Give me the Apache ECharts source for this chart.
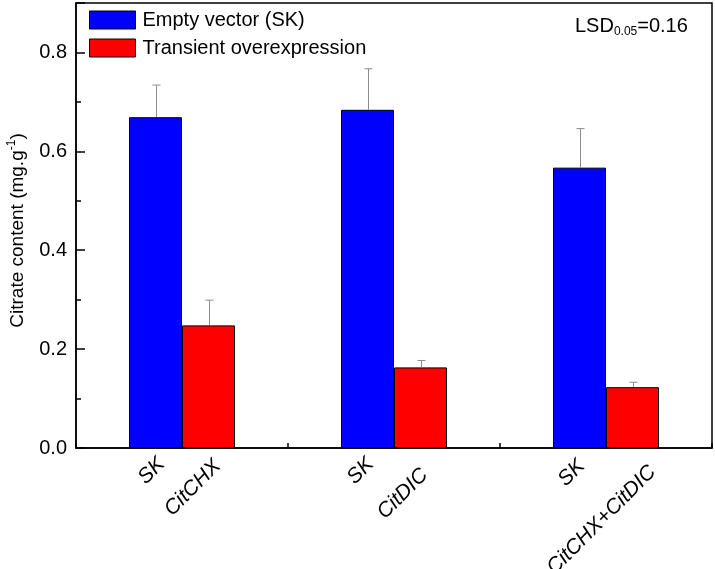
<!DOCTYPE html>
<html><head><meta charset="utf-8">
<script src="https://cdn.jsdelivr.net/npm/echarts@6/dist/echarts.min.js"></script>
<style>html,body{margin:0;padding:0;background:#fff}#c{width:715px;height:569px}</style>
</head><body><div id="c"></div>
<script>
const groups = ['CitCHX', 'CitDIC', 'CitCHX+CitDIC'];
const skLabels = ['SK', 'SK', 'SK'];
const oeLabels = ['CitCHX', 'CitDIC', 'CitCHX+CitDIC'];
const skMeans = [0.669, 0.684, 0.567];
const skErrors = [0.065, 0.083, 0.079];
const oeMeans = [0.248, 0.163, 0.123];
const oeErrors = [0.051, 0.014, 0.010];
const seriesNames = ['Empty vector (SK)', 'Transient overexpression'];

// layout only: screen-space pixel nudges of each rotated category label (as placed in the original figure)
const skLabelNudge = [[6, 13], [3, 13], [2, 15]];
const oeLabelNudge = [[9, 15], [4, 24], [20, 21]];

const FONT = 'Liberation Sans, Arial, sans-serif';
const ROT = 45;

function errSeries(means, errs, sign) {
  return {
    type: 'custom',
    data: means.map((m, i) => [i, m, errs[i]]),
    encode: { x: 0, y: 1 },
    z: 5,
    silent: true,
    renderItem: (params, api) => {
      const i = api.value(0), m = api.value(1), e = api.value(2);
      const bw = api.size([1, 0])[0];
      const p0 = api.coord([i, m]);
      const p1 = api.coord([i, m + e]);
      const x = Math.round(p0[0] + sign * bw / 8) + 0.5;
      const cap = 4;
      return {
        type: 'group',
        children: [
          { type: 'line', shape: { x1: x, y1: p0[1], x2: x, y2: p1[1] }, style: { stroke: '#8c8c8c', lineWidth: 1 } },
          { type: 'line', shape: { x1: x - cap, y1: p1[1], x2: x + cap, y2: p1[1] }, style: { stroke: '#8c8c8c', lineWidth: 1 } }
        ]
      };
    }
  };
}

// label offset is applied in the rotated text frame: convert screen nudge into it
function toTextFrame(n) {
  const a = ROT * Math.PI / 180, c = Math.cos(a), s = Math.sin(a);
  return [n[0] * c - n[1] * s, n[0] * s + n[1] * c];
}

function barData(means, labels, nudges) {
  return means.map((v, i) => ({
    value: v,
    label: {
      show: true,
      position: 'bottom',
      distance: 0,
      offset: toTextFrame(nudges[i]),
      rotate: ROT,
      align: 'right',
      verticalAlign: 'middle',
      fontFamily: FONT,
      fontStyle: 'italic',
      fontSize: 21,
      color: '#000',
      formatter: labels[i]
    }
  }));
}

const chart = echarts.init(document.getElementById('c'), null, { renderer: 'canvas' });
chart.setOption({
  animation: false,
  backgroundColor: '#fff',
  textStyle: { fontFamily: FONT },
  grid: {
    left: 76, right: 3, top: 3, bottom: 121,
    show: true, borderColor: '#000', borderWidth: 1.5, backgroundColor: 'transparent',
    containLabel: false, outerBoundsMode: 'none'
  },
  legend: {
    orient: 'vertical', left: 89, top: 10, padding: 0,
    itemWidth: 46, itemHeight: 18, itemGap: 8,
    icon: 'rect',
    data: seriesNames,
    textStyle: { fontSize: 20, color: '#000', fontFamily: FONT, lineHeight: 18, padding: [0, 0, 0, 2] },
    itemStyle: { borderColor: '#000', borderWidth: 1 }
  },
  xAxis: {
    type: 'category',
    data: groups,
    boundaryGap: true,
    axisLine: { show: true, lineStyle: { color: '#000', width: 1.5 } },
    axisTick: { show: true, inside: true, length: 5, lineStyle: { color: '#000', width: 1.5 } },
    axisLabel: { show: false },
    splitLine: { show: false }
  },
  yAxis: [{
    type: 'value', min: 0, max: 0.9, interval: 0.2,
    name: '{a|Citrate content (mg.g}{s|-1}{a|)}',
    nameLocation: 'middle', nameGap: 46, nameRotate: 90,
    nameTextStyle: {
      padding: [0, 10, 0, 0],
      rich: {
        a: { fontSize: 19, color: '#000', fontFamily: FONT, lineHeight: 24 },
        s: { fontSize: 12, color: '#000', fontFamily: FONT, lineHeight: 12, verticalAlign: 'top' }
      }
    },
    axisLine: { show: true, lineStyle: { color: '#000', width: 1.5 } },
    axisTick: { show: true, inside: true, length: 9, lineStyle: { color: '#000', width: 1.5 } },
    axisLabel: {
      margin: 9, fontSize: 20, color: '#000', fontFamily: FONT,
      formatter: v => (v > 0.85 ? '' : v.toFixed(1))
    },
    splitLine: { show: false }
  }, {
    type: 'value', min: 0, max: 0.9, interval: 0.1, position: 'left', offset: 0,
    axisLine: { show: false },
    axisTick: { show: true, inside: true, length: 5, lineStyle: { color: '#000', width: 1.5 } },
    axisLabel: { show: false },
    splitLine: { show: false }
  }],
  series: [
    {
      name: seriesNames[0], type: 'bar', data: barData(skMeans, skLabels, skLabelNudge),
      barWidth: '25%', barGap: '0%',
      itemStyle: { color: '#0000ff', borderColor: '#000', borderWidth: 1 }
    },
    {
      name: seriesNames[1], type: 'bar', data: barData(oeMeans, oeLabels, oeLabelNudge),
      barWidth: '25%', barGap: '0%',
      itemStyle: { color: '#ff0000', borderColor: '#000', borderWidth: 1 }
    },
    errSeries(skMeans, skErrors, -1),
    errSeries(oeMeans, oeErrors, 1)
  ],
  graphic: [{
    type: 'text', left: 575, top: 16, z: 10,
    style: {
      text: '{a|LSD}{b|0.05}{a|=0.16}',
      rich: {
        a: { fontSize: 20, fill: '#000', fontFamily: FONT, lineHeight: 24 },
        b: { fontSize: 12, fill: '#000', fontFamily: FONT, lineHeight: 8, verticalAlign: 'bottom' }
      }
    }
  }]
});
</script></body></html>
